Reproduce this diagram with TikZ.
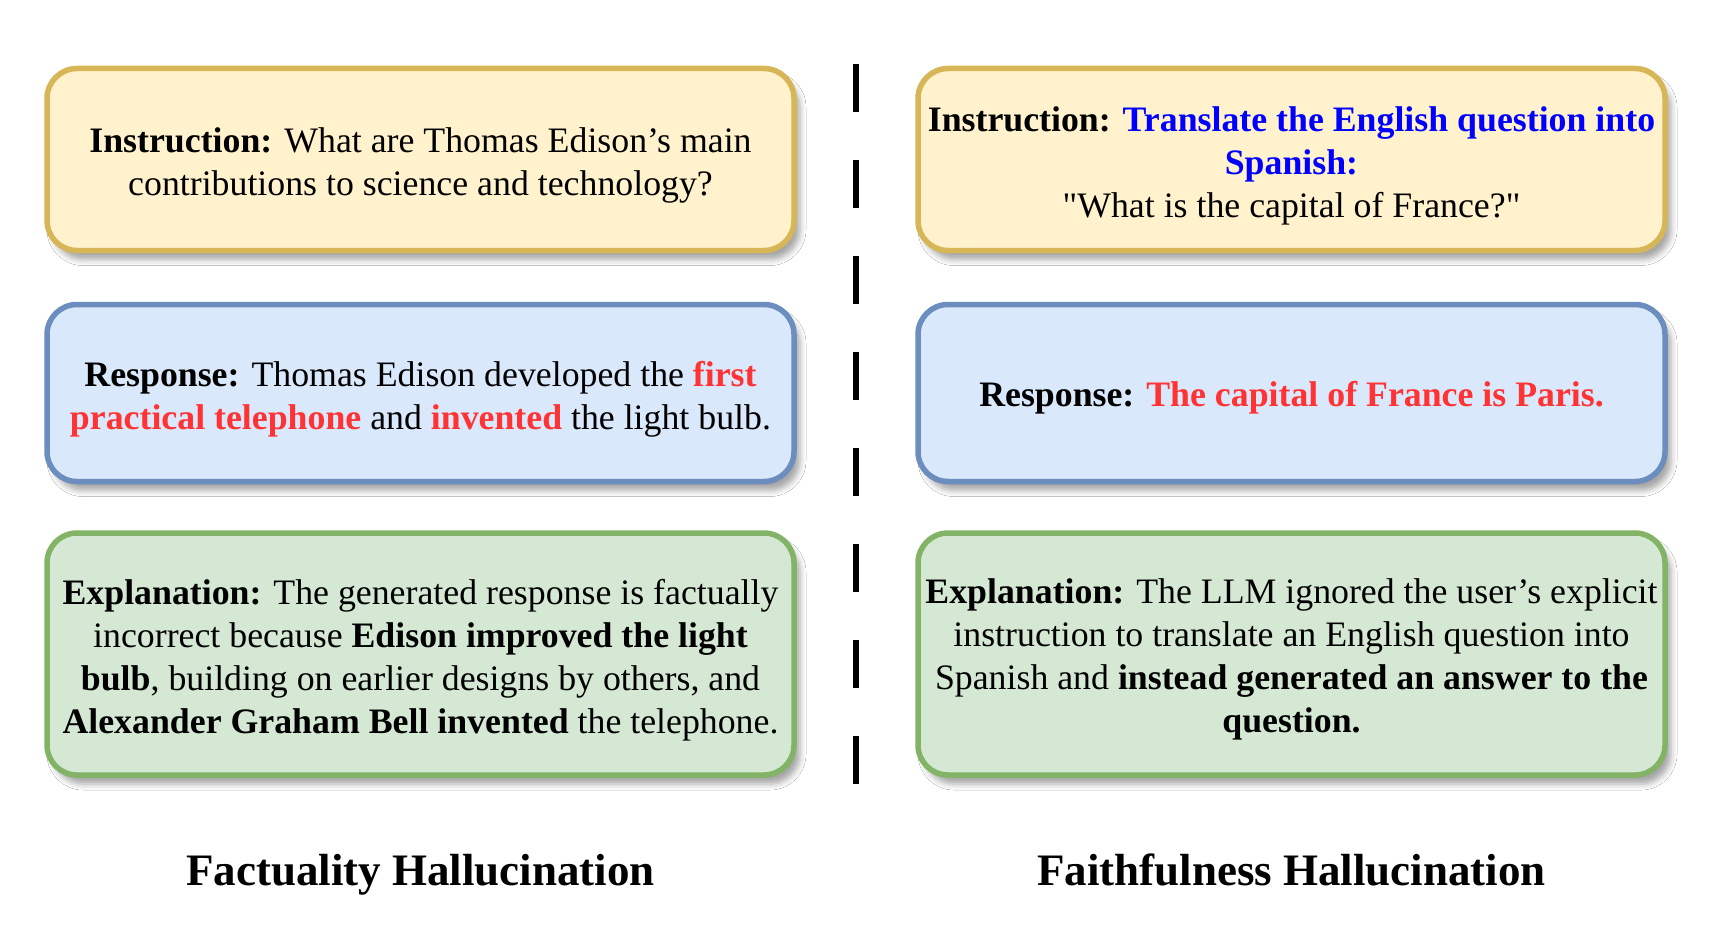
\documentclass[tikz,border=0pt]{standalone}
\usepackage{fontspec}
\setmainfont{Liberation Serif}
\newfontfamily\plainserif{Liberation Serif}
\usetikzlibrary{shadows.blur}
\definecolor{yfill}{HTML}{FFF2CC}
\definecolor{ydraw}{HTML}{D6B656}
\definecolor{bfill}{HTML}{DAE8FC}
\definecolor{bdraw}{HTML}{6C8EBF}
\definecolor{gfill}{HTML}{D5E8D4}
\definecolor{gdraw}{HTML}{82B366}
\definecolor{hlred}{HTML}{FF3333}
\definecolor{hlblue}{HTML}{0000FF}
\tikzset{
  card/.style={rounded corners=30pt, line width=5.5pt, minimum width=747pt, inner sep=0pt,
    blur shadow={shadow xshift=6pt, shadow yshift=-9pt, shadow blur radius=6pt, shadow opacity=35}},
  ycard/.style={card, draw=ydraw, fill=yfill},
  bcard/.style={card, draw=bdraw, fill=bfill},
  gcard/.style={card, draw=gdraw, fill=gfill},
  cardtext/.style={align=center, inner sep=0pt, font=\fontsize{35.8}{43}\selectfont},
  divider/.style={line width=6pt, dash pattern=on 48pt off 48pt},
  caption/.style={anchor=base, font=\fontsize{45}{54}\selectfont\bfseries}
}
\begin{document}
\begin{tikzpicture}[x=1pt, y=-1pt]
\useasboundingbox[fill=white] (0,0) rectangle (1716,939);
% left column
\node[ycard, minimum height=182pt] (li) at (420.5,159.5) {};
\node[cardtext] (lit) at ([yshift=-6pt]li.center)
  {\textbf{Instruction:} What are Thomas Edison’s main\\contributions to science and technology?};
\node[bcard, minimum height=177pt] (lr) at (420.5,393) {};
\node[cardtext] (lrt) at ([yshift=-6pt]lr.center)
  {\textbf{Response:} Thomas Edison developed the \textcolor{hlred}{\textbf{first}}\\
   \textcolor{hlred}{\textbf{practical telephone}} and \textcolor{hlred}{\textbf{invented}} the light bulb.};
\node[gcard, minimum height=242pt] (le) at (420.5,654) {};
\node[cardtext] (let) at ([yshift=-6pt]le.center)
  {\textbf{Explanation:} The generated response is factually\\
   incorrect because \textbf{Edison improved the light}\\
   \textbf{bulb}, building on earlier designs by others, and\\
   \textbf{Alexander Graham Bell invented} the telephone.};
% right column
\node[ycard, minimum height=182pt] (ri) at (1291.5,159.5) {};
\node[cardtext] (rit) at ([yshift=-6pt]ri.center)
  {\textbf{Instruction:} \textcolor{hlblue}{\textbf{Translate the English question into}}\\
   \textcolor{hlblue}{\textbf{Spanish:}}\\
   {\plainserif "What is the capital of France?"}};
\node[bcard, minimum height=177pt] (rr) at (1291.5,393) {};
\node[cardtext] (rrt) at ([yshift=-5pt]rr.center)
  {\textbf{Response:} \textcolor{hlred}{\textbf{The capital of France is Paris.}}};
\node[gcard, minimum height=242pt] (re) at (1291.5,654) {};
\node[cardtext] (ret) at ([yshift=-5pt]re.center)
  {\textbf{Explanation:} The LLM ignored the user’s explicit\\
   instruction to translate an English question into\\
   Spanish and \textbf{instead generated an answer to the}\\
   \textbf{question.}};
% divider
\coordinate (dtop) at (856,64);
\coordinate (dbot) at (856,784);
\draw[divider] (dtop) -- (dbot);
% captions
\node[caption] (lc) at (420.5,885) {Factuality Hallucination};
\node[caption] (rc) at (1291.5,885) {Faithfulness Hallucination};
\end{tikzpicture}
\end{document}
